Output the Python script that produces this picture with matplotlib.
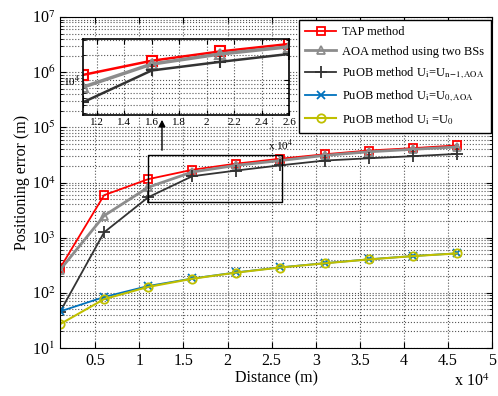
import matplotlib
matplotlib.use("Agg")
import matplotlib.pyplot as plt
import numpy as np
from matplotlib.ticker import FixedLocator, FuncFormatter, NullFormatter

plt.rcParams['font.family'] = ['Liberation Serif', 'DejaVu Serif']
plt.rcParams['mathtext.fontset'] = 'stix'

distance = [1000, 6000, 11000, 16000, 21000, 26000, 31000, 36000, 41000, 46000]
tap = [280, 5900, 11500, 17000, 22000, 27000, 32500, 38000, 42000, 47000]
aoa = [260, 2500, 8200, 15500, 20500, 25000, 31000, 36000, 40000, 44000]
puob_n1 = [45, 1250, 5400, 13000, 16500, 20500, 25000, 27500, 30000, 33000]
puob_0aoa = [46, 84, 133, 182, 235, 290, 345, 405, 465, 520]
puob_0 = [27, 77, 128, 180, 233, 288, 343, 403, 463, 518]

labels = ['TAP method', 'AOA method using two BSs',
          r'PuOB method U$_{\rm i}$=U$_{\rm n\!-\!1,AOA}$',
          r'PuOB method U$_{\rm i}$=U$_{\rm 0,AOA}$',
          r'PuOB method U$_{\rm i}$ =U$_{\rm 0}$']

colors = ['#ff0000', '#8c8c8c', '#333333', '#0072bd', '#bfbf00']
markers = ['s', '^', '+', 'x', 'o']
widths = [1.3, 2.0, 1.3, 1.3, 1.5]
series = [tap, aoa, puob_n1, puob_0aoa, puob_0]

fig = plt.figure(figsize=(4.98, 3.96), dpi=100)
ax = fig.add_axes([0.1205, 0.1212, 0.8675, 0.8358])

for ys, c, m, lw, lab in zip(series, colors, markers, widths, labels):
    ax.plot(distance, ys, color=c, marker=m, lw=lw, ms=6 if m != '+' else 8,
            mfc='none', mew=1.3, label=lab)

ax.set_yscale('log')
ax.set_xlim(1000, 50000)
ax.set_ylim(10, 1e7)
xt = [5000, 10000, 15000, 20000, 25000, 30000, 35000, 40000, 45000, 50000]
ax.xaxis.set_major_locator(FixedLocator(xt))
ax.xaxis.set_major_formatter(FuncFormatter(lambda v, p: ('%g' % (v / 1e4))))
major_y = [10.0 ** k for k in range(1, 8)]
minor_y = [m * 10.0 ** k for k in range(1, 7) for m in range(2, 10)]
ax.yaxis.set_major_locator(FixedLocator(major_y))
ax.yaxis.set_major_formatter(FuncFormatter(lambda v, p: r'10$^{%d}$' % round(np.log10(v))))
ax.yaxis.set_minor_locator(FixedLocator(minor_y))
ax.yaxis.set_minor_formatter(NullFormatter())
ax.tick_params(which='both', direction='in', top=True, right=True, labelsize=11.5)
ax.tick_params(which='major', length=4)
ax.tick_params(which='minor', length=2)
ax.grid(True, which='major', axis='both', linestyle=':', color='#555555', lw=0.8)
ax.grid(True, which='minor', axis='y', linestyle=':', color='#555555', lw=0.8)
ax.set_xlabel('Distance (m)', fontsize=11.5, labelpad=1)
ax.set_ylabel('Positioning error (m)', fontsize=11.5, labelpad=1)
fig.text(0.912, 0.014, r'x 10$^{4}$', fontsize=11.5, va='bottom')

leg = ax.legend(loc='upper right', bbox_to_anchor=(491 / 498, 1 - 20 / 396),
                bbox_transform=fig.transFigure, fontsize=9, fancybox=False,
                edgecolor='black', framealpha=1, handlelength=2.5,
                borderaxespad=0, labelspacing=0.6, borderpad=0.5, handletextpad=0.5)
leg.get_frame().set_linewidth(1.0)

# zoom rectangle
rx0, rx1, ry0, ry1 = 11000, 26200, 4500, 32000
ax.plot([rx0, rx1, rx1, rx0, rx0], [ry0, ry0, ry1, ry1, ry0], color='black', lw=1.0)

# inset
axin = fig.add_axes([83 / 498, 1 - 115 / 396, 206 / 498, 76 / 396])
for ys, c, m, lw in zip(series[:3], colors[:3], markers[:3], widths[:3]):
    axin.plot(distance, ys, color=c, marker=m, lw=lw + 0.5, ms=7 if m != '+' else 9,
              mfc='none', mew=1.5)
axin.set_yscale('log')
axin.set_xlim(rx0, 26000)
axin.set_ylim(3800, 31000)
axin.xaxis.set_major_locator(FixedLocator([12000, 14000, 16000, 18000, 20000, 22000, 24000, 26000]))
axin.xaxis.set_major_formatter(FuncFormatter(lambda v, p: ('%g' % (v / 1e4))))
axin.yaxis.set_major_locator(FixedLocator([1e4]))
axin.yaxis.set_major_formatter(FuncFormatter(lambda v, p: r'10$^{4}$'))
axin.yaxis.set_minor_locator(FixedLocator([4000, 5000, 6000, 7000, 8000, 9000, 20000, 30000]))
axin.yaxis.set_minor_formatter(NullFormatter())
axin.tick_params(which='both', direction='in', top=True, right=True, labelsize=8, pad=2)
axin.tick_params(which='minor', length=2)
axin.grid(True, which='major', axis='both', linestyle=':', color='#555555', lw=0.8)
axin.grid(True, which='minor', axis='y', linestyle=':', color='#555555', lw=0.8)
for s in axin.spines.values():
    s.set_linewidth(1.2)
fig.text(268 / 498, 1 - 150 / 396, r'x 10$^{4}$', fontsize=8)

# arrow from rectangle to inset
ax.annotate('', xy=(162 / 498, 1 - 117 / 396), xycoords='figure fraction',
            xytext=(162 / 498, 1 - 153 / 396), textcoords='figure fraction',
            arrowprops=dict(arrowstyle='-|>', color='black', lw=1.0, mutation_scale=10))

fig.savefig('out.png', dpi=100)
